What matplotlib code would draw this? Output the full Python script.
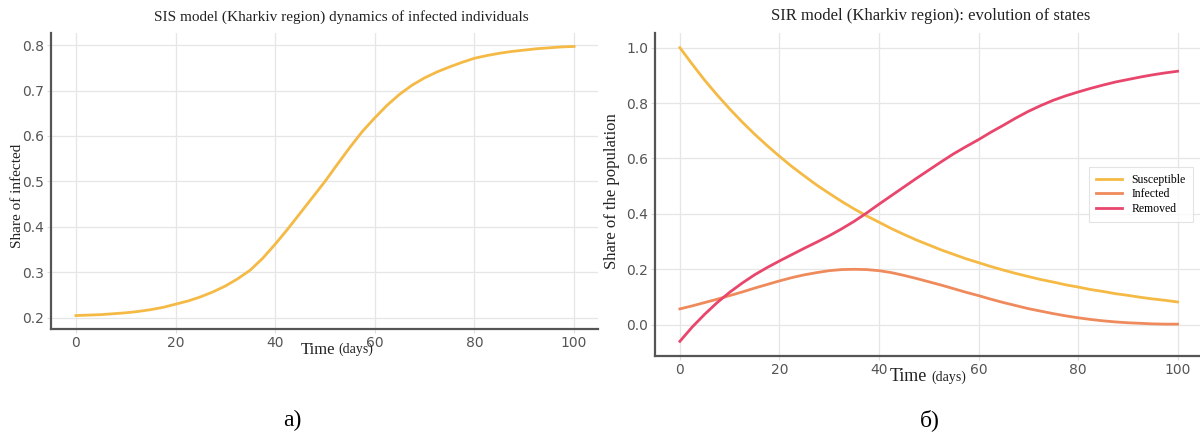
"""
SIS and SIR model curves for the Kharkiv region, side by side.
"""
import numpy as np
import matplotlib
matplotlib.use("Agg")
import matplotlib.pyplot as plt

# Days (every 2.5 days)
days = np.arange(0, 100.1, 2.5)

# SIS: share of infected
sis_infected = [0.205, 0.206, 0.207, 0.209, 0.211, 0.214, 0.218, 0.223, 0.230, 0.237, 0.246,
                0.257, 0.270, 0.286, 0.305, 0.331, 0.362, 0.395, 0.430, 0.465, 0.500,
                0.538, 0.575, 0.610, 0.640, 0.668, 0.692, 0.712, 0.728, 0.741, 0.752,
                0.762, 0.771, 0.777, 0.782, 0.786, 0.789, 0.792, 0.794, 0.796, 0.797]

# SIR: states
sir_susceptible = [1.000, 0.940, 0.882, 0.829, 0.779, 0.732, 0.688, 0.647, 0.608, 0.571, 0.537,
                   0.504, 0.474, 0.445, 0.418, 0.393, 0.370, 0.347, 0.326, 0.306, 0.288,
                   0.270, 0.254, 0.238, 0.224, 0.210, 0.197, 0.185, 0.174, 0.163, 0.154,
                   0.144, 0.136, 0.127, 0.120, 0.112, 0.106, 0.099, 0.093, 0.088, 0.082]
sir_infected = [0.057, 0.068, 0.080, 0.092, 0.105, 0.118, 0.132, 0.145, 0.158, 0.170, 0.180,
                0.188, 0.195, 0.199, 0.200, 0.199, 0.195, 0.188, 0.178, 0.167, 0.155,
                0.143, 0.130, 0.117, 0.105, 0.092, 0.080, 0.069, 0.058, 0.049, 0.040,
                0.032, 0.025, 0.019, 0.014, 0.010, 0.007, 0.005, 0.003, 0.002, 0.002]
sir_removed = [-0.060, -0.008, 0.038, 0.080, 0.117, 0.150, 0.180, 0.206, 0.230, 0.253, 0.276,
               0.298, 0.321, 0.346, 0.373, 0.403, 0.435, 0.466, 0.497, 0.528, 0.558,
               0.588, 0.617, 0.643, 0.668, 0.695, 0.720, 0.746, 0.770, 0.791, 0.810,
               0.826, 0.840, 0.853, 0.865, 0.876, 0.885, 0.894, 0.902, 0.909, 0.915]

sir_labels = ["Susceptible", "Infected", "Removed"]
colores = ["#F5BA45", "#EF8A5C", "#E8466C"]

serif = ["Liberation Serif", "DejaVu Serif"]
sans = ["DejaVu Sans"]
color_tick = "#555555"
color_spine = "#555555"
color_texto = "#222222"


def estilo(ax):
    # Rejilla y ejes al estilo del original
    ax.grid(True, color="#e6e6e6", linewidth=0.9)
    ax.set_axisbelow(True)
    for s in ["top", "right"]:
        ax.spines[s].set_visible(False)
    for s in ["left", "bottom"]:
        ax.spines[s].set_color(color_spine)
        ax.spines[s].set_linewidth(1.6)
    ax.tick_params(axis="both", length=3, color="#dddddd", labelsize=10,
                   labelcolor=color_tick, pad=2)
    for lbl in ax.get_xticklabels() + ax.get_yticklabels():
        lbl.set_family(sans)


fig = plt.figure(figsize=(12, 4.48), dpi=100)

# Gráfica a) SIS
ax1 = fig.add_axes([51 / 1200, 1 - 329 / 448, 547 / 1200, 296 / 448])
ax1.plot(days, sis_infected, color=colores[0], linewidth=2)
ax1.set_xlim(-5, 104.8)
ax1.set_xticks([0, 20, 40, 60, 80, 100])
ax1.set_yticks([0.2, 0.3, 0.4, 0.5, 0.6, 0.7, 0.8])
estilo(ax1)
ax1.set_title("SIS model (Kharkiv region) dynamics of infected individuals",
              family=serif, fontsize=11, color=color_texto, pad=9, x=0.53)
ax1.set_ylabel("Share of infected", family=serif, fontsize=11, color=color_texto)
ax1.yaxis.set_label_coords(-0.05, 0.45)
ax1.text(0.52, -0.07, "Time", transform=ax1.transAxes, family=serif, fontsize=12,
         ha="right", va="center", color=color_texto)
ax1.text(0.525, -0.07, "(days)", transform=ax1.transAxes, family=serif, fontsize=10,
         ha="left", va="center", color=color_texto)

# Gráfica б) SIR
ax2 = fig.add_axes([655 / 1200, 1 - 356 / 448, 545 / 1200, 323 / 448])
for serie, lab, col in zip([sir_susceptible, sir_infected, sir_removed], sir_labels, colores):
    ax2.plot(days, serie, color=col, linewidth=2, label=lab)
ax2.set_xlim(-5, 104.5)
ax2.set_xticks([0, 20, 40, 60, 80, 100])
ax2.set_yticks([0.0, 0.2, 0.4, 0.6, 0.8, 1.0])
estilo(ax2)
ax2.set_title("SIR model (Kharkiv region): evolution of states",
              family=serif, fontsize=12, color=color_texto, pad=9, x=0.505)
ax2.set_ylabel("Share of the population", family=serif, fontsize=12, color=color_texto)
ax2.yaxis.set_label_coords(-0.064, 0.51)
ax2.text(0.5, -0.065, "Time", transform=ax2.transAxes, family=serif, fontsize=13,
         ha="right", va="center", color=color_texto)
ax2.text(0.507, -0.065, "(days)", transform=ax2.transAxes, family=serif, fontsize=10,
         ha="left", va="center", color=color_texto)
leg = ax2.legend(loc="center right", bbox_to_anchor=(0.998, 0.5),
                 prop={"family": serif, "size": 8.5},
                 frameon=True, handlelength=2.2, borderpad=0.6, labelspacing=0.2,
                 fancybox=False)
leg.get_frame().set_edgecolor("#dddddd")
leg.get_frame().set_linewidth(0.8)

# Subtítulos a) y б)
fig.text(292 / 1200, 1 - 420 / 448, "а)", family=serif, fontsize=17, ha="center", va="center")
fig.text(930 / 1200, 1 - 420 / 448, "б)", family=serif, fontsize=17, ha="center", va="center")

fig.savefig("out.png", dpi=100, facecolor="white")
